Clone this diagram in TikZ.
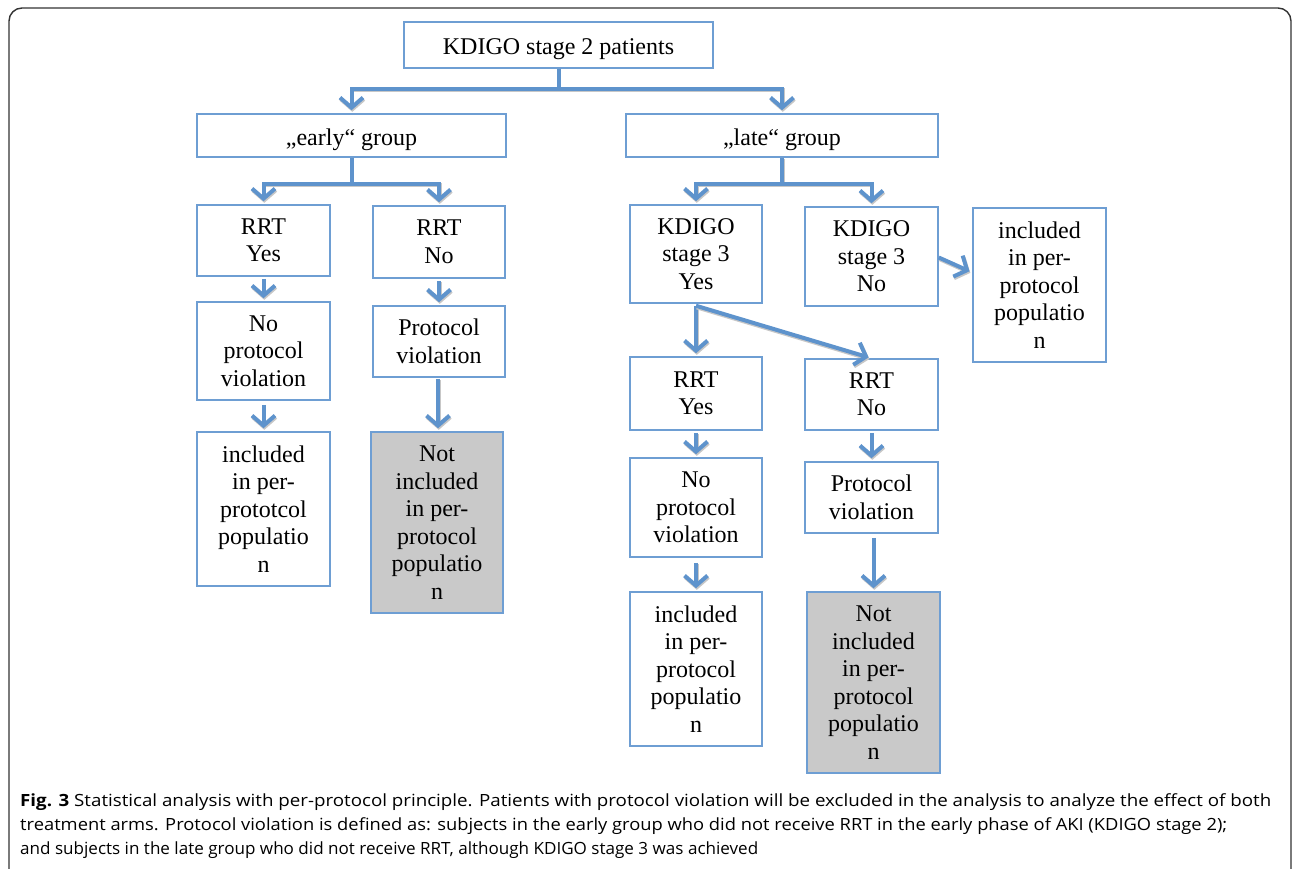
\documentclass[tikz,border=0pt]{standalone}
\usepackage{fontspec}
\setmainfont{Liberation Serif}
\newfontfamily\capfont{Open Sans}
\usetikzlibrary{arrows.meta,calc}
\definecolor{boxblue}{HTML}{6E9ED3}
\definecolor{arrblue}{HTML}{5E93CC}
\definecolor{greyfill}{HTML}{C9C9C9}
\tikzset{
  box/.style={draw=boxblue, line width=1.5pt, fill=white, inner sep=0pt, align=center,
    font=\fontsize{24}{27.5}\selectfont},
  onebox/.style={box, text height=20pt, text depth=0pt},
  greybox/.style={box, fill=greyfill},
  conn/.style={draw=arrblue, line width=4pt,
    preaction={draw=black!22, line width=4pt, transform canvas={shift={(0.8pt,-1.6pt)}}}},
  arr/.style={conn, -{Straight Barb[length=10pt,width=23pt]}, shorten >=3pt},
  capline/.style={anchor=base west, inner sep=0pt, font=\capfont\fontsize{16.8}{20}\selectfont},
}
\newcommand\bx[7][box]{%
  \node[#1, minimum width={#5-#3}, minimum height={#6-#4}] (#2) at ({(#3+#5)/2},{(#4+#6)/2}) {#7};}
\begin{document}
\begin{tikzpicture}[x=1pt,y=-1pt]
\useasboundingbox (0,0) rectangle (1293,869);
\begin{scope}
\clip (0,0) rectangle (1293,869);
\draw[line width=1.4pt, draw=black!80, rounded corners=13pt] (9,8) rectangle (1291,885);
\end{scope}
% boxes
\bx[onebox]{top}{404}{22}{713}{68}{KDIGO stage 2 patients}
\bx[onebox]{early}{197}{114}{506}{157}{„early“ group}
\bx[onebox]{late}{626}{114}{938}{157}{„late“ group}
\bx{rrtyL}{197}{205}{330}{276}{RRT\\Yes}
\bx{rrtnL}{373}{206}{505}{278}{RRT\\No}
\bx{npvL}{197}{302}{330}{400}{No\\protocol\\violation}
\bx{pvL}{373}{306}{505}{377}{Protocol\\violation}
\bx{inclL}{197}{432}{330}{586}{included\\in per-\\prototcol\\populatio\\n}
\bx[greybox]{notL}{371}{432}{503}{613}{Not\\included\\in per-\\protocol\\populatio\\n}
\bx{k3y}{630}{205}{762}{303}{KDIGO\\stage 3\\Yes}
\bx{k3n}{805}{207}{938}{306}{KDIGO\\stage 3\\No}
\bx{inclR1}{973}{208}{1106}{362}{included\\in per-\\protocol\\populatio\\n}
\bx{rrtyR}{630}{357}{762}{430}{RRT\\Yes}
\bx{rrtnR}{805}{359}{938}{430}{RRT\\No}
\bx{npvR}{630}{458}{762}{557}{No\\protocol\\violation}
\bx{pvR}{805}{462}{938}{533}{Protocol\\violation}
\bx{inclR2}{630}{592}{762}{746}{included\\in per-\\protocol\\populatio\\n}
\bx[greybox]{notR}{807}{592}{940}{773}{Not\\included\\in per-\\protocol\\populatio\\n}
% connectors
\draw[arr] (top.south) -- ++(0,20) -| (early.north);
\draw[arr] (top.south) -- ++(0,20) -| (late.north);
\draw[arr] (early.south) -- ++(0,26) -| (rrtyL.north);
\draw[arr] (early.south) -- ++(0,26) -| (rrtnL.north);
\draw[arr] (late.south) -- ++(0,26) -| (k3y.north);
\draw[arr] (late.south) -- ++(0,26) -| (k3n.north);
\draw[arr] ([yshift=-2pt]rrtyL.south) -- (npvL.north);
\draw[arr] ([yshift=-4pt]npvL.south) -- (inclL.north);
\draw[arr] ([yshift=-2pt]rrtnL.south) -- (pvL.north);
\draw[arr] ([yshift=-1pt,xshift=-1pt]pvL.south) -- ([xshift=-1pt]pvL.south |- notL.north);
\draw[arr] ([yshift=-2pt]k3y.south) -- (rrtyR.north);
\draw[arr] ([yshift=-2pt]k3y.south) -- (rrtnR.north);
\draw[arr] ([yshift=-1pt]k3n.east) -- ([yshift=-16pt]k3n.east -| inclR1.west);
\draw[arr] ([yshift=-2pt]rrtyR.south) -- (npvR.north);
\draw[arr] ([yshift=-5pt]npvR.south) -- (inclR2.north);
\draw[arr] ([yshift=-2pt]rrtnR.south) -- (pvR.north);
\draw[arr] ([yshift=-4pt,xshift=2pt]pvR.south) -- ([xshift=2pt]pvR.south |- notR.north);
% caption
\node[capline] (c1) at (20,806) {\resizebox{1251pt}{\height}{\textbf{Fig. 3} Statistical analysis with per-protocol principle. Patients with protocol violation will be excluded in the analysis to analyze the effect of both}};
\node[capline] (c2) at (20,830) {\resizebox{1207pt}{\height}{treatment arms. Protocol violation is defined as: subjects in the early group who did not receive RRT in the early phase of AKI (KDIGO stage 2);}};
\node[capline] (c3) at (20,854) {\resizebox{738pt}{\height}{and subjects in the late group who did not receive RRT, although KDIGO stage 3 was achieved}};
\end{tikzpicture}
\end{document}
